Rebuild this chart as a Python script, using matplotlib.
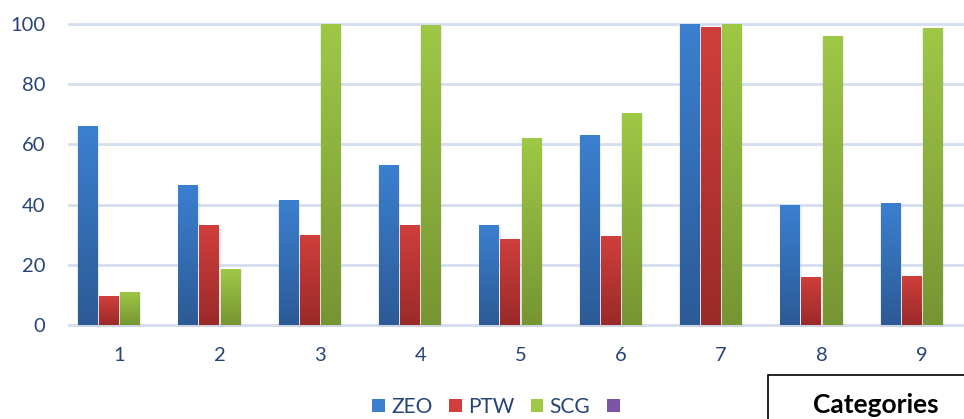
import numpy as np
import matplotlib.pyplot as plt
from matplotlib.patches import Rectangle, Patch
from matplotlib.colors import LinearSegmentedColormap

plt.rcParams['font.family'] = ['Lato', 'DejaVu Sans']

categories = ['1', '2', '3', '4', '5', '6', '7', '8', '9']
series_names = ['ZEO', 'PTW', 'SCG', '']
zeo = [66, 46.5, 41.5, 53.3, 33.3, 63, 100, 40, 40.5]
ptw = [9.5, 33.2, 30, 33.3, 28.7, 29.7, 99, 16, 16.3]
scg = [11, 18.6, 100, 99.7, 62, 70.5, 100, 96, 98.7]
empty = [0] * 9
yticks = [0, 20, 40, 60, 80, 100]

# top / bottom colours of the gradient per series
grad = [('#3b80d0', '#2c5a96'),
        ('#d03f3b', '#9a2a29'),
        ('#9fc846', '#769533'),
        ('#7d55a6', '#5c3d80')]
text_col = '#264478'

fig = plt.figure(figsize=(9.64, 4.19), dpi=100)
ax = fig.add_axes([69 / 964, 94 / 419, (972 - 69) / 964, 301 / 419])

x = np.arange(1, len(categories) + 1)
step = 0.21
width = 0.19
ax.set_xlim(0.5, 9.5)
ax.set_ylim(0, 100)

for t in yticks:
    ax.axhline(t, color='#d3deee', lw=2, zorder=0, clip_on=False)

grad_img = np.linspace(0, 1, 256).reshape(-1, 1)
for i, vals in enumerate([zeo, ptw, scg, empty]):
    cmap = LinearSegmentedColormap.from_list('g%d' % i, [grad[i][1], grad[i][0]])
    xs = x + (i - 1.5) * step
    for xi, v in zip(xs, vals):
        if v <= 0:
            continue
        # soft shadow
        ax.add_patch(Rectangle((xi - width / 2 - 0.008, -0.8), width + 0.03, v + 0.3,
                               fc='#b8b8b8', ec='none', alpha=0.25, zorder=1, clip_on=False))
        bar = ax.bar(xi, v, width, color='none', zorder=2)[0]
        im = ax.imshow(grad_img, cmap=cmap, origin='lower', aspect='auto',
                       extent=(xi - width / 2, xi + width / 2, 0, v), zorder=2)
        im.set_clip_path(bar)

ax.set_aspect('auto')
ax.set_xlim(0.5, 9.5)
ax.set_ylim(0, 100)

for s in ax.spines.values():
    s.set_visible(False)
ax.set_xticks(x)
ax.set_xticklabels(categories)
ax.set_yticks(yticks)
ax.tick_params(length=0, labelsize=14.5, colors=text_col)
ax.tick_params(axis='y', pad=17)
ax.tick_params(axis='x', pad=16)

handles = [Patch(facecolor=c[0], edgecolor='none') for c in grad]
fig.legend(handles, series_names, loc='center', bbox_to_anchor=(499 / 964, 12 / 419),
           ncol=4, frameon=False, fontsize=15, labelcolor=text_col,
           handlelength=0.6, handleheight=0.6, handletextpad=0.3,
           columnspacing=0.8, borderpad=0)

fig.patches.append(Rectangle((768 / 964, -0.1), 0.3, 44 / 419 + 0.1,
                             transform=fig.transFigure, fc='white', ec='black', lw=1.2))
fig.text(876 / 964, 14 / 419, 'Categories', ha='center', va='center',
         fontsize=19, fontweight='bold', color='black')

fig.savefig('out.png', dpi=100)
